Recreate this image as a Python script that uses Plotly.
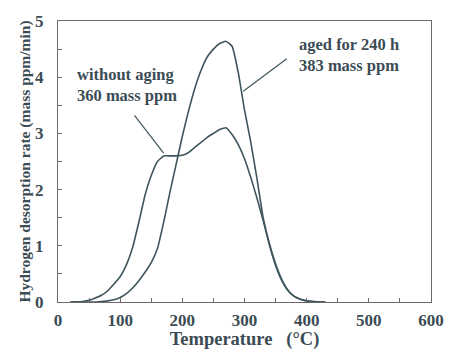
import plotly.graph_objects as go

temp_a = [20, 30, 40, 50, 60, 70, 80, 90, 100, 110, 120, 130, 140, 150, 160, 170, 180, 190, 200,
          210, 220, 230, 240, 250, 260, 270, 280, 290, 300, 310, 320, 330, 340, 350, 360, 370,
          380, 390, 400, 415, 430]
rate_noaging = [0, 0, 0.01, 0.03, 0.07, 0.12, 0.2, 0.32, 0.45, 0.66, 0.97, 1.42, 1.9, 2.25, 2.5,
                2.6, 2.6, 2.6, 2.61, 2.66, 2.75, 2.84, 2.93, 3.0, 3.07, 3.1, 2.98, 2.8, 2.55,
                2.22, 1.85, 1.45, 1.02, 0.65, 0.38, 0.2, 0.1, 0.05, 0.02, 0.005, 0]
rate_aged = [0, 0, 0, 0, 0, 0.01, 0.02, 0.04, 0.08, 0.15, 0.25, 0.38, 0.53, 0.7, 0.95, 1.42,
             1.95, 2.45, 2.95, 3.4, 3.8, 4.12, 4.36, 4.5, 4.6, 4.64, 4.55, 4.08, 3.42, 2.85,
             2.2, 1.5, 1.04, 0.68, 0.4, 0.21, 0.1, 0.05, 0.02, 0.005, 0]

label_noaging = "without aging<br>360 mass ppm"
label_aged = "aged for 240 h<br>383 mass ppm"

line_col = "#3f555e"
text_col = "#3c4c55"
axis_col = "#6a6a6a"
font_fam = "Liberation Serif, Times New Roman, serif"

fig = go.Figure()
for rates in (rate_noaging, rate_aged):
    fig.add_trace(go.Scatter(x=temp_a, y=rates, mode="lines",
                             line=dict(color=line_col, width=1.6, shape="spline", smoothing=0.35),
                             showlegend=False))

# annotation leader lines
fig.add_shape(type="line", x0=123, y0=3.32, x1=170, y1=2.65,
              line=dict(color=line_col, width=1.2))
fig.add_shape(type="line", x0=368, y0=4.33, x1=298, y1=3.75,
              line=dict(color=line_col, width=1.2))

fig.add_annotation(x=28, y=3.86, text="<b>" + label_noaging + "</b>", showarrow=False,
                   xanchor="left", yanchor="middle", align="left",
                   font=dict(family=font_fam, size=16.5, color=text_col))
fig.add_annotation(x=385, y=4.39, text="<b>" + label_aged + "</b>", showarrow=False,
                   xanchor="left", yanchor="middle", align="left",
                   font=dict(family=font_fam, size=16.5, color=text_col))

fig.update_layout(
    width=456, height=356,
    margin=dict(l=58, r=15, t=15, b=53),
    plot_bgcolor="white", paper_bgcolor="white",
    font=dict(family=font_fam, color=text_col),
)
fig.update_xaxes(
    range=[0, 600], dtick=100, showgrid=False, zeroline=False,
    showline=True, linecolor=axis_col, linewidth=1.2, mirror=True,
    ticks="inside", ticklen=4, tickcolor=axis_col,
    minor=dict(dtick=50, ticks="inside", ticklen=4, tickcolor=axis_col),
    tickfont=dict(size=17, family=font_fam, color=text_col), tickprefix="<b>", ticksuffix="</b>",
    ticklabelstandoff=2,
    title=dict(text="<b>Temperature   (°C)</b>", font=dict(size=18.5, family=font_fam, color=text_col),
               standoff=2),
)
fig.update_yaxes(
    range=[0, 5], dtick=1, showgrid=False, zeroline=False,
    showline=True, linecolor=axis_col, linewidth=1.2, mirror=True,
    ticks="inside", ticklen=4, tickcolor=axis_col,
    minor=dict(dtick=0.5, ticks="inside", ticklen=4, tickcolor=axis_col),
    tickfont=dict(size=17, family=font_fam, color=text_col), tickprefix="<b>", ticksuffix="</b>",
    ticklabelstandoff=10,
    title=dict(text="<b>Hydrogen desorption rate (mass ppm/min)</b>",
               font=dict(size=15.5, family=font_fam, color=text_col), standoff=0),
)

fig.write_html("out.html")
